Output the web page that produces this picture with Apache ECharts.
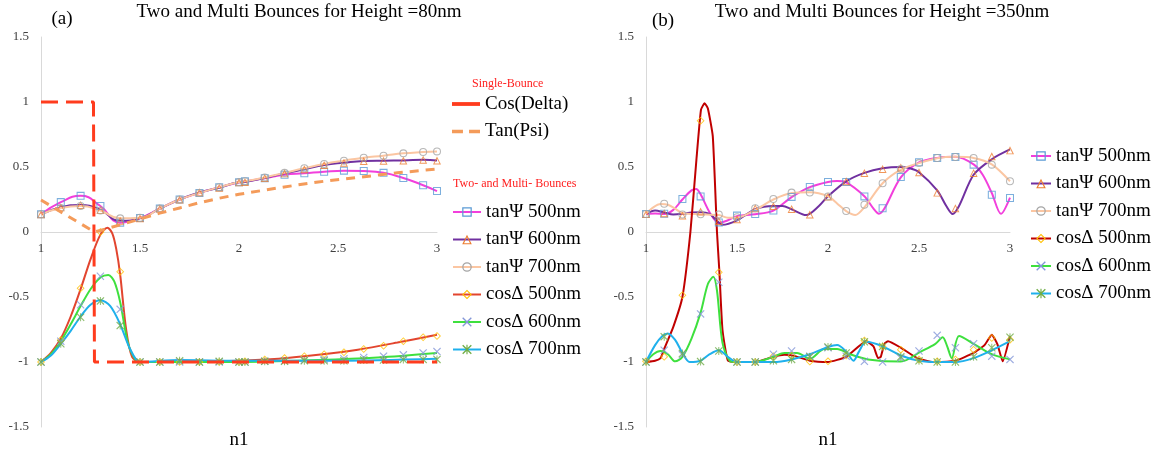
<!DOCTYPE html>
<html>
<head>
<meta charset="utf-8">
<script src="https://cdn.jsdelivr.net/npm/echarts@6/dist/echarts.min.js"></script>
<style>
    html, body { margin: 0; padding: 0; background: #fff; }
    #main { width: 1157px; height: 452px; }
</style>
</head>
<body>
<div id="main"></div>
<script>
// (a) Height = 80nm, marker positions
var xA = [1, 1.1, 1.2, 1.3, 1.4, 1.5, 1.6, 1.7, 1.8, 1.9, 2, 2.03, 2.13, 2.23, 2.33, 2.43, 2.53, 2.63, 2.73, 2.83, 2.93, 3];
var tan500A = [0.136, 0.23, 0.278, 0.2, 0.072, 0.108, 0.18, 0.25, 0.3, 0.345, 0.382, 0.39, 0.413, 0.44, 0.451, 0.464, 0.472, 0.469, 0.455, 0.415, 0.36, 0.315];
var tan600A = [0.136, 0.19, 0.208, 0.17, 0.087, 0.105, 0.18, 0.25, 0.305, 0.341, 0.382, 0.385, 0.416, 0.451, 0.482, 0.515, 0.533, 0.546, 0.549, 0.55, 0.556, 0.55];
var tan700A = [0.136, 0.185, 0.2, 0.165, 0.105, 0.11, 0.18, 0.25, 0.3, 0.345, 0.385, 0.39, 0.42, 0.455, 0.49, 0.523, 0.549, 0.572, 0.587, 0.605, 0.615, 0.62];
var cos500A = [-1, -0.83, -0.433, 0, -0.305, -1, -1, -1, -1, -1, -1, -0.995, -0.98, -0.97, -0.955, -0.94, -0.925, -0.9, -0.875, -0.84, -0.81, -0.8];
var cos600A = [-1, -0.84, -0.56, -0.34, -0.595, -1, -1, -1, -1, -1, -1, -1, -0.995, -0.99, -0.985, -0.98, -0.975, -0.965, -0.955, -0.945, -0.93, -0.92];
var cos700A = [-1, -0.86, -0.656, -0.53, -0.72, -1, -1, -0.99, -1, -0.995, -1, -1, -0.995, -0.995, -0.99, -0.99, -0.99, -0.985, -0.985, -0.98, -0.98, -0.98];

// (a) smooth curves of cos
var cos500LineA = [[1, -1], [1.05, -0.93], [1.1, -0.82], [1.15, -0.65], [1.2, -0.44], [1.25, -0.21], [1.3, -0.02], [1.335, 0.033], [1.36, -0.01], [1.38, -0.13], [1.4, -0.33], [1.43, -0.75], [1.46, -0.96], [1.5, -1], [1.7, -1], [2, -0.99], [2.2, -0.975], [2.4, -0.945], [2.6, -0.905], [2.8, -0.85], [3, -0.79]];
var cos600LineA = [[1, -1], [1.05, -0.94], [1.1, -0.84], [1.15, -0.71], [1.2, -0.57], [1.25, -0.44], [1.3, -0.35], [1.34, -0.33], [1.37, -0.38], [1.4, -0.54], [1.44, -0.86], [1.48, -0.99], [1.5, -1], [2, -1], [2.4, -0.985], [2.7, -0.965], [3, -0.93]];
var cos700LineA = [[1, -1], [1.05, -0.95], [1.1, -0.86], [1.15, -0.76], [1.2, -0.65], [1.25, -0.56], [1.3, -0.525], [1.35, -0.57], [1.4, -0.71], [1.45, -0.9], [1.5, -1], [1.7, -0.985], [2, -0.99], [2.5, -0.99], [3, -0.975]];

// (a) single bounce
var cosDeltaA = [[1, 1], [1.265, 1], [1.27, -1], [3, -1]];
var tanPsiA = [[1, 0.246], [1.27, 0], [1.3, 0.012], [1.4, 0.055], [1.5, 0.1], [1.6, 0.145], [1.7, 0.185], [1.8, 0.225], [1.9, 0.26], [2, 0.29], [2.2, 0.34], [2.4, 0.385], [2.6, 0.42], [2.8, 0.455], [3, 0.485]];

// (b) Height = 350nm, marker positions
var xB = [1, 1.1, 1.2, 1.3, 1.4, 1.5, 1.6, 1.7, 1.8, 1.9, 2, 2.1, 2.2, 2.3, 2.4, 2.5, 2.6, 2.7, 2.8, 2.9, 3];
var tan500B = [0.138, 0.14, 0.254, 0.274, 0.074, 0.126, 0.138, 0.165, 0.27, 0.346, 0.385, 0.385, 0.274, 0.183, 0.423, 0.536, 0.569, 0.577, 0.518, 0.287, 0.262];
var tan600B = [0.138, 0.145, 0.127, 0.157, 0.085, 0.098, 0.183, 0.2, 0.177, 0.134, 0.274, 0.39, 0.454, 0.485, 0.497, 0.459, 0.303, 0.183, 0.454, 0.582, 0.628];
var tan700B = [0.138, 0.217, 0.135, 0.137, 0.135, 0.113, 0.183, 0.254, 0.303, 0.303, 0.274, 0.162, 0.21, 0.375, 0.485, 0.53, 0.569, 0.577, 0.569, 0.518, 0.39];
var cos500B = [-0.995, -0.96, -0.487, 0.856, -0.31, -1, -1, -0.956, -0.95, -0.997, -0.995, -0.95, -0.835, -0.88, -0.905, -0.98, -0.995, -0.98, -0.905, -0.815, -0.828];
var cos600B = [-1, -0.91, -0.945, -0.63, -0.387, -1, -1, -0.94, -0.915, -0.955, -0.89, -0.955, -0.995, -1, -0.97, -0.915, -0.795, -0.89, -0.86, -0.955, -0.98];
var cos700B = [-1, -0.805, -0.935, -0.997, -0.915, -1, -1, -0.99, -0.98, -0.96, -0.885, -0.93, -0.845, -0.88, -0.96, -0.99, -1, -1, -0.96, -0.89, -0.81];

// (b) curves
var tan500LineB = [[1, 0.14], [1.05, 0.142], [1.1, 0.138], [1.15, 0.17], [1.2, 0.25], [1.25, 0.32], [1.275, 0.33], [1.3, 0.29], [1.35, 0.15], [1.4, 0.07], [1.45, 0.09], [1.5, 0.122], [1.6, 0.136], [1.7, 0.165], [1.8, 0.268], [1.9, 0.345], [2, 0.385], [2.05, 0.392], [2.1, 0.382], [2.2, 0.275], [2.25, 0.18], [2.28, 0.14], [2.31, 0.18], [2.4, 0.42], [2.5, 0.535], [2.6, 0.57], [2.7, 0.578], [2.8, 0.52], [2.85, 0.44], [2.9, 0.3], [2.95, 0.14], [3, 0.265]];
var tan600LineB = [[1, 0.14], [1.05, 0.165], [1.1, 0.15], [1.15, 0.135], [1.2, 0.14], [1.25, 0.15], [1.3, 0.152], [1.35, 0.14], [1.38, 0.1], [1.42, 0.055], [1.5, 0.09], [1.6, 0.175], [1.7, 0.2], [1.75, 0.2], [1.8, 0.175], [1.88, 0.13], [1.95, 0.2], [2, 0.275], [2.1, 0.39], [2.2, 0.455], [2.3, 0.49], [2.4, 0.5], [2.45, 0.49], [2.5, 0.46], [2.6, 0.32], [2.65, 0.2], [2.685, 0.138], [2.72, 0.2], [2.8, 0.44], [2.9, 0.56], [3, 0.635]];
var tan700LineB = [[1, 0.14], [1.04, 0.19], [1.08, 0.215], [1.12, 0.21], [1.16, 0.18], [1.2, 0.145], [1.3, 0.137], [1.4, 0.13], [1.45, 0.11], [1.5, 0.11], [1.6, 0.17], [1.7, 0.25], [1.8, 0.3], [1.9, 0.305], [2, 0.275], [2.05, 0.22], [2.1, 0.16], [2.15, 0.13], [2.2, 0.19], [2.3, 0.375], [2.4, 0.48], [2.5, 0.53], [2.6, 0.568], [2.7, 0.578], [2.8, 0.57], [2.9, 0.52], [3, 0.39]];
var cos500LineB = [[1, -1], [1.05, -0.99], [1.08, -0.97], [1.1, -0.9], [1.15, -0.73], [1.2, -0.5], [1.244, 0], [1.277, 0.556], [1.302, 0.94], [1.322, 0.99], [1.34, 0.95], [1.367, 0.736], [1.39, 0], [1.403, -0.3], [1.42, -0.75], [1.45, -0.99], [1.5, -1], [1.6, -1], [1.7, -0.96], [1.76, -0.945], [1.82, -0.955], [1.9, -0.99], [2, -1], [2.1, -0.96], [2.21, -0.84], [2.25, -0.88], [2.275, -0.97], [2.29, -0.96], [2.31, -0.86], [2.33, -0.84], [2.4, -0.89], [2.49, -0.97], [2.58, -1], [2.7, -0.99], [2.8, -0.93], [2.86, -0.87], [2.9, -0.79], [2.93, -0.86], [2.96, -0.995], [3, -0.8]];
var cos600LineB = [[1, -1], [1.04, -0.94], [1.08, -0.915], [1.12, -0.94], [1.16, -0.995], [1.2, -0.96], [1.25, -0.82], [1.3, -0.62], [1.34, -0.4], [1.37, -0.345], [1.39, -0.45], [1.42, -0.85], [1.46, -0.99], [1.5, -1], [1.6, -1], [1.7, -0.96], [1.76, -0.93], [1.83, -0.93], [1.9, -0.975], [1.98, -0.9], [2.05, -0.9], [2.12, -0.94], [2.22, -0.98], [2.4, -0.997], [2.51, -0.92], [2.59, -0.86], [2.63, -0.81], [2.655, -0.88], [2.68, -0.97], [2.72, -0.8], [2.8, -0.86], [2.9, -0.94], [3, -0.98]];
var cos700LineB = [[1, -1], [1.05, -0.87], [1.09, -0.8], [1.12, -0.78], [1.16, -0.83], [1.2, -0.93], [1.24, -1], [1.3, -0.99], [1.35, -0.94], [1.4, -0.91], [1.45, -0.96], [1.5, -1], [1.6, -1], [1.7, -1], [1.8, -0.98], [1.9, -0.94], [2, -0.885], [2.05, -0.87], [2.1, -0.92], [2.14, -0.99], [2.17, -0.92], [2.21, -0.845], [2.3, -0.88], [2.4, -0.95], [2.5, -0.99], [2.6, -1], [2.7, -1], [2.8, -0.97], [2.9, -0.91], [3, -0.84]];

var namesA = ['tanΨ 500nm', 'tanΨ 600nm', 'tanΨ 700nm', 'cosΔ 500nm', 'cosΔ 600nm', 'cosΔ 700nm'];
var namesB = ['tanΨ 500nm (b)', 'tanΨ 600nm (b)', 'tanΨ 700nm (b)', 'cosΔ 500nm (b)', 'cosΔ 600nm (b)', 'cosΔ 700nm (b)'];

// hollow markers
var symSq = 'path://M0,0H10V10H0Z M1.3,1.3V8.7H8.7V1.3Z';
var symTri = 'path://M5,0L10,9L0,9Z M5,2.4L1.9,7.9H8.1Z';
var symCirc = 'path://M5,0A5,5,0,1,1,4.99,0Z M5,1.3A3.7,3.7,0,1,0,5.01,1.3Z';
var symDia = 'path://M5,0L10,5L5,10L0,5Z M5,1.6L1.6,5L5,8.4L8.4,5Z';
var symX = 'path://M1,0L5,4L9,0L10,1L6,5L10,9L9,10L5,6L1,10L0,9L4,5L0,1Z';
var symStar = 'path://M1,0L5,4L9,0L10,1L6,5L10,9L9,10L5,6L1,10L0,9L4,5L0,1Z M4.4,0H5.6V10H4.4Z';

var FONT = 'Liberation Serif';

function zip(xs, ys) {
    var out = [];
    for (var i = 0; i < xs.length; i++) {
        out.push([xs[i], ys[i]]);
    }
    return out;
}

function curve(name, data, k, lineColor, markColor, symbol, smooth) {
    return {
        name: name, type: 'line', xAxisIndex: k, yAxisIndex: k,
        data: data, smooth: smooth, showSymbol: false,
        symbol: symbol, symbolSize: 8,
        itemStyle: {color: markColor},
        lineStyle: {color: lineColor, width: 2},
        z: 2
    };
}

function marks(name, xs, ys, k, color, symbol) {
    return {
        name: name + ' marks', type: 'scatter', xAxisIndex: k, yAxisIndex: k,
        data: zip(xs, ys), symbol: symbol, symbolSize: 8,
        itemStyle: {color: color},
        z: 3
    };
}

// x axis sits on y = 0: grid is 390 high for -1.5..1.5, so 195 up from the bottom
function axisX(k) {
    return {
        type: 'value', gridIndex: k, min: 1, max: 3, interval: 0.5,
        position: 'bottom', offset: -195,
        axisLine: {onZero: false, lineStyle: {color: '#d9d9d9', width: 1}},
        axisTick: {show: false}, splitLine: {show: false},
        axisLabel: {margin: 10, fontFamily: FONT, fontSize: 13, color: '#404040'},
        name: 'n1', nameLocation: 'middle', nameGap: 199,
        nameTextStyle: {fontFamily: FONT, fontSize: 19, color: '#000'}
    };
}

function axisY(k) {
    return {
        type: 'value', gridIndex: k, min: -1.5, max: 1.5, interval: 0.5,
        axisLine: {show: true, lineStyle: {color: '#d9d9d9', width: 1}},
        axisTick: {show: false}, splitLine: {show: false},
        axisLabel: {margin: 12, fontFamily: FONT, fontSize: 13, color: '#404040'}
    };
}

function legendBox(data, left, top, iw) {
    return {
        data: data, orient: 'vertical', left: left, top: top,
        itemWidth: iw, itemHeight: 12, itemGap: 7.5, padding: 0,
        selectedMode: false,
        textStyle: {fontFamily: FONT, fontSize: 19, color: '#000', lineHeight: 20}
    };
}

var colTan500 = '#f23fdc', colTan600 = '#7030a0', colTan700 = '#fbc6a2';
var colCos600 = '#3ee03e', colCos700 = '#1fb0ec';
var mkSq = '#5b9bd5', mkTri = '#ed7d31', mkCirc = '#a5a5a5', mkDia = '#ffc000', mkX = '#8497d8', mkStar = '#70ad47';

var series = [
    // (a)
    curve(namesA[0], zip(xA, tan500A), 0, colTan500, mkSq, symSq, 0.5),
    curve(namesA[1], zip(xA, tan600A), 0, colTan600, mkTri, symTri, 0.5),
    curve(namesA[2], zip(xA, tan700A), 0, colTan700, mkCirc, symCirc, 0.5),
    curve(namesA[3], cos500LineA, 0, '#e2452f', mkDia, symDia, 0.3),
    curve(namesA[4], cos600LineA, 0, colCos600, mkX, symX, 0.3),
    curve(namesA[5], cos700LineA, 0, colCos700, mkStar, symStar, 0.3),
    marks(namesA[0], xA, tan500A, 0, mkSq, symSq),
    marks(namesA[1], xA, tan600A, 0, mkTri, symTri),
    marks(namesA[2], xA, tan700A, 0, mkCirc, symCirc),
    marks(namesA[3], xA, cos500A, 0, mkDia, symDia),
    marks(namesA[4], xA, cos600A, 0, mkX, symX),
    marks(namesA[5], xA, cos700A, 0, mkStar, symStar),
    {
        name: 'Cos(Delta)', type: 'line', xAxisIndex: 0, yAxisIndex: 0,
        data: cosDeltaA, showSymbol: false, symbol: 'none',
        itemStyle: {color: '#ff3c1e'},
        lineStyle: {color: '#ff3c1e', width: 3, type: [17, 8]}, z: 4
    },
    {
        name: 'Tan(Psi)', type: 'line', xAxisIndex: 0, yAxisIndex: 0,
        data: tanPsiA, showSymbol: false, symbol: 'none',
        itemStyle: {color: '#f49b5a'},
        lineStyle: {color: '#f49b5a', width: 3, type: [9, 7]}, z: 4
    },
    // (b)
    curve(namesB[0], tan500LineB, 1, colTan500, mkSq, symSq, 0.3),
    curve(namesB[1], tan600LineB, 1, colTan600, mkTri, symTri, 0.3),
    curve(namesB[2], tan700LineB, 1, colTan700, mkCirc, symCirc, 0.3),
    curve(namesB[3], cos500LineB, 1, '#c00000', mkDia, symDia, 0.15),
    curve(namesB[4], cos600LineB, 1, colCos600, mkX, symX, 0.3),
    curve(namesB[5], cos700LineB, 1, colCos700, mkStar, symStar, 0.3),
    marks(namesB[0], xB, tan500B, 1, mkSq, symSq),
    marks(namesB[1], xB, tan600B, 1, mkTri, symTri),
    marks(namesB[2], xB, tan700B, 1, mkCirc, symCirc),
    marks(namesB[3], xB, cos500B, 1, mkDia, symDia),
    marks(namesB[4], xB, cos600B, 1, mkX, symX),
    marks(namesB[5], xB, cos700B, 1, mkStar, symStar)
];

var legendB = legendBox(namesB, 1030, 146, 20);
legendB.formatter = function (name) {
    return name.replace(' (b)', '');
};

var titleFont = {fontFamily: FONT, fontSize: 19, fontWeight: 'normal', color: '#000'};
var noteFont = {fontFamily: FONT, fontSize: 12, fontWeight: 'normal', color: '#ff2020'};

var option = {
    animation: false,
    backgroundColor: '#fff',
    title: [
        {text: 'Two and Multi Bounces for Height =80nm', left: 299, top: 3, textAlign: 'center', padding: 0, textStyle: titleFont},
        {text: 'Two and Multi Bounces for Height =350nm', left: 882, top: 3, textAlign: 'center', padding: 0, textStyle: titleFont},
        {text: '(a)', left: 62, top: 10, textAlign: 'center', padding: 0, textStyle: titleFont},
        {text: '(b)', left: 663, top: 12, textAlign: 'center', padding: 0, textStyle: titleFont},
        {text: 'Single-Bounce', left: 472, top: 78, padding: 0, textStyle: noteFont},
        {text: 'Two- and Multi- Bounces', left: 453, top: 178, padding: 0, textStyle: noteFont}
    ],
    legend: [
        legendBox([
            {name: 'Cos(Delta)', icon: 'path://M0,0H22V3H0Z'},
            {name: 'Tan(Psi)', icon: 'path://M0,0H9V3H0Z M14,0H23V3H14Z'}
        ], 452, 94, 28),
        legendBox(namesA, 452, 202, 28),
        legendB
    ],
    grid: [
        {left: 41, top: 37, width: 396, height: 390, outerBoundsMode: 'none'},
        {left: 646, top: 37, width: 364, height: 390, outerBoundsMode: 'none'}
    ],
    xAxis: [axisX(0), axisX(1)],
    yAxis: [axisY(0), axisY(1)],
    series: series
};

var myChart = echarts.init(document.getElementById('main'));
myChart.setOption(option);
</script>
</body>
</html>
